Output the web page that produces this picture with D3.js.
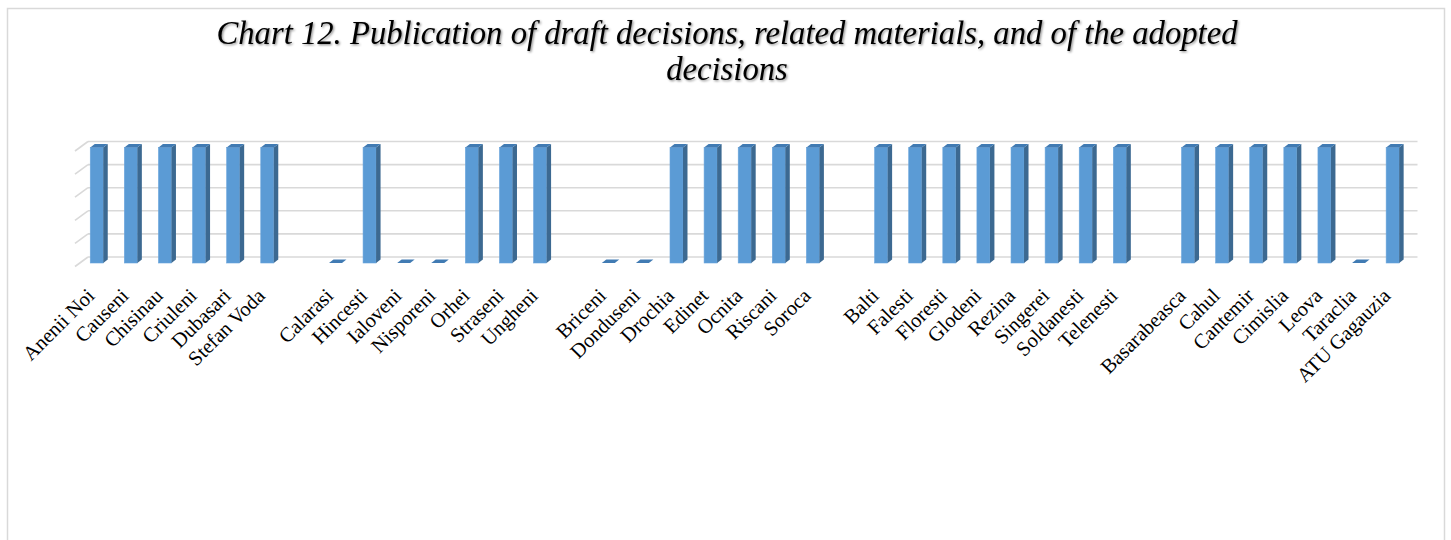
<!DOCTYPE html>
<html>
<head>
<meta charset="utf-8">
<script src="https://cdn.jsdelivr.net/npm/d3@7"></script>
<style>
  html, body { margin: 0; padding: 0; background: #ffffff; }
  svg { display: block; }
</style>
</head>
<body>
<script>
// ---- data ----
const categories = [
  "Anenii Noi","Causeni","Chisinau","Criuleni","Dubasari","Stefan Voda","",
  "Calarasi","Hincesti","Ialoveni","Nisporeni","Orhei","Straseni","Ungheni","",
  "Briceni","Donduseni","Drochia","Edinet","Ocnita","Riscani","Soroca","",
  "Balti","Falesti","Floresti","Glodeni","Rezina","Singerei","Soldanesti","Telenesti","",
  "Basarabeasca","Cahul","Cantemir","Cimislia","Leova","Taraclia","ATU Gagauzia"
];
const values = [
  1,1,1,1,1,1,null,
  0,1,0,0,1,1,1,null,
  0,0,1,1,1,1,1,null,
  1,1,1,1,1,1,1,1,null,
  1,1,1,1,1,0,1
];
const yTicks = [0, 0.2, 0.4, 0.6, 0.8, 1.0];
const titleLines = [
  "Chart 12. Publication of draft decisions, related materials, and of the adopted",
  "decisions"
];

// ---- layout ----
const W = 1451, H = 540;
const svg = d3.select("body").append("svg").attr("width", W).attr("height", H);

const defs = svg.append("defs");
const f = defs.append("filter").attr("id", "tshadow").attr("x", "-5%").attr("y", "-20%").attr("width", "110%").attr("height", "160%");
f.append("feDropShadow").attr("dx", 1.2).attr("dy", 1.2).attr("stdDeviation", 1).attr("flood-color", "#000").attr("flood-opacity", 0.45);

// chart border
svg.append("rect").attr("x", 7.5).attr("y", 8.5).attr("width", 1437).attr("height", 560)
  .attr("fill", "#fff").attr("stroke", "#d9d9d9").attr("stroke-width", 1.5);

// title
const title = svg.append("text")
  .attr("text-anchor", "middle")
  .attr("font-family", "'Liberation Serif', 'DejaVu Serif', serif")
  .attr("font-style", "italic")
  .attr("font-size", 32.7)
  .attr("fill", "#000")
  .attr("filter", "url(#tshadow)");
titleLines.forEach((t, i) => {
  title.append("tspan").attr("x", 727).attr("y", 44 + i * 36).text(t);
});

// scales
const x = d3.scaleBand().domain(d3.range(categories.length)).range([79.7, 1409.7]).padding(0);
const y = d3.scaleLinear().domain([0, 1]).range([263, 147.5]);
const barW = 13;
const dx = 4.5, dy = -3.5;      // bar depth offset
const wallDy = -6;               // back wall offset from bar front
const wallX0 = 88, wallX1 = 1417.5;

// gridlines (back wall + left wall diagonals)
const grid = svg.append("g").attr("stroke", "#d9d9d9").attr("stroke-width", 1.6).attr("fill", "none");
yTicks.forEach(t => {
  const gy = y(t) + wallDy;
  grid.append("line").attr("x1", wallX0).attr("x2", wallX1).attr("y1", gy).attr("y2", gy);
  grid.append("line").attr("x1", 75).attr("x2", wallX0).attr("y1", gy + 9.5).attr("y2", gy);
});

// bars
const bars = svg.append("g");
categories.forEach((c, i) => {
  const v = values[i];
  if (v === null || v === undefined) return;
  const cx = x(i) + x.bandwidth() / 2;
  const xl = cx - barW / 2, xr = xl + barW;
  const y0 = y(0), yv = y(v);
  if (yv < y0 - 0.5) {
    bars.append("rect").attr("x", xl).attr("y", yv).attr("width", barW).attr("height", y0 - yv)
      .attr("fill", "#5b9bd5").attr("stroke", "#6aa5dc").attr("stroke-width", 0.6);
    bars.append("path")
      .attr("d", `M${xr},${yv}L${xr + dx},${yv + dy}L${xr + dx},${y0 + dy}L${xr},${y0}Z`)
      .attr("fill", "#3c6991");
  }
  bars.append("path")
    .attr("d", `M${xl},${yv}L${xl + dx},${yv + dy}L${xr + dx},${yv + dy}L${xr},${yv}Z`)
    .attr("fill", "#417bb3");
});

// category labels
const labels = svg.append("g")
  .attr("font-family", "'Liberation Serif', 'DejaVu Serif', serif")
  .attr("font-size", 20.5)
  .attr("fill", "#000");
categories.forEach((c, i) => {
  if (!c) return;
  const cx = x(i) + x.bandwidth() / 2;
  labels.append("text")
    .attr("text-anchor", "end")
    .attr("transform", `translate(${cx - 1},${297}) rotate(-45)`)
    .text(c);
});
</script>
</body>
</html>
